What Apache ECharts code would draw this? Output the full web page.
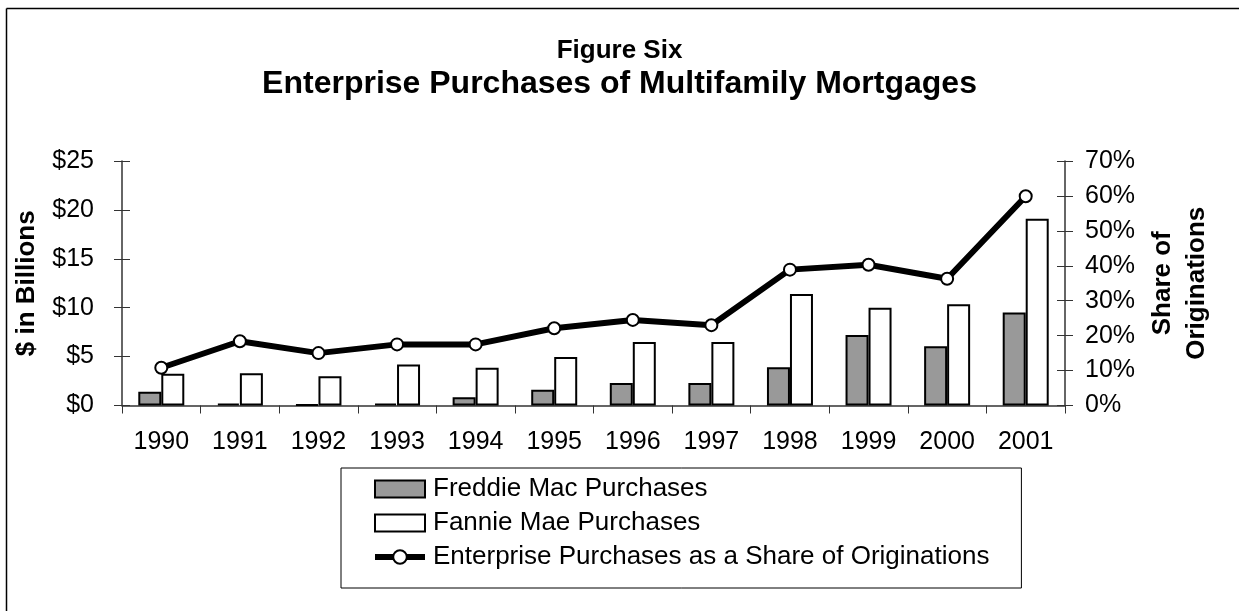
<!DOCTYPE html>
<html>
<head>
<meta charset="utf-8">
<title>Enterprise Purchases of Multifamily Mortgages</title>
<script src="https://cdn.jsdelivr.net/npm/echarts@6/dist/echarts.min.js"></script>
<style>
  html, body { margin: 0; padding: 0; background: #fff; }
  #chart { width: 1239px; height: 611px; }
</style>
</head>
<body>
<div id="chart"></div>
<script>
const years = ['1990', '1991', '1992', '1993', '1994', '1995', '1996', '1997', '1998', '1999', '2000', '2001'];
// $ billions
const freddie = [1.4, 0.2, 0.1, 0.2, 0.85, 1.6, 2.3, 2.3, 3.9, 7.2, 6.05, 9.5];
const fannie = [3.25, 3.3, 3.0, 4.2, 3.85, 4.95, 6.5, 6.5, 11.4, 10.0, 10.35, 19.1];
// percent of originations
const share = [10.8, 18.4, 15.0, 17.5, 17.5, 22.1, 24.5, 23.0, 38.9, 40.3, 36.3, 59.9];

const font = 'Arial, "Liberation Sans", sans-serif';
const axisColor = '#333';
const chart = echarts.init(document.getElementById('chart'));

// invisible twin axis, only to draw the inner half of the crossing tick marks
const innerTicks = (max, interval, position) => ({
  type: 'value', min: 0, max, interval, position,
  axisLine: { show: false },
  axisTick: { show: true, inside: true, length: 8, lineStyle: { color: axisColor } },
  axisLabel: { show: false },
  splitLine: { show: false }
});

chart.setOption({
  animation: false,
  backgroundColor: '#fff',
  textStyle: { fontFamily: font, color: '#000' },
  title: [
    { text: 'Figure Six', left: 'center', top: 33,
      textStyle: { fontFamily: font, fontSize: 26, fontWeight: 'bold', color: '#000' } },
    { text: 'Enterprise Purchases of Multifamily Mortgages', left: 'center', top: 63,
      textStyle: { fontFamily: font, fontSize: 32, fontWeight: 'bold', color: '#000' } }
  ],
  graphic: [
    { type: 'line', shape: { x1: 6.5, y1: 8.5, x2: 1239, y2: 8.5 }, style: { stroke: '#000', lineWidth: 1.5 } },
    { type: 'line', shape: { x1: 6.5, y1: 8.5, x2: 6.5, y2: 611 }, style: { stroke: '#000', lineWidth: 1.5 } }
  ],
  legend: {
    orient: 'vertical',
    left: 341,
    top: 468,
    padding: [8, 32, 18, 31],
    borderColor: '#000',
    borderWidth: 1,
    itemWidth: 50,
    itemHeight: 17,
    itemGap: 8,
    textStyle: { fontFamily: font, fontSize: 26, color: '#000', lineHeight: 26, padding: [0, 0, 0, 3] },
    data: [
      { name: 'Freddie Mac Purchases', icon: 'rect',
        itemStyle: { color: '#999999', borderColor: '#000', borderWidth: 2 } },
      { name: 'Fannie Mae Purchases', icon: 'rect',
        itemStyle: { color: '#fff', borderColor: '#000', borderWidth: 2 } },
      { name: 'Enterprise Purchases as a Share of Originations',
        itemStyle: { color: '#fff', borderColor: '#000', borderWidth: 2 },
        lineStyle: { color: '#000', width: 6 } }
    ]
  },
  grid: { left: 122, right: 174, top: 161, bottom: 205.5 },
  xAxis: {
    type: 'category',
    data: years,
    axisLine: { lineStyle: { color: axisColor, width: 1.5 } },
    axisTick: { show: true, length: 8, lineStyle: { color: axisColor } },
    axisLabel: { fontFamily: font, fontSize: 25, color: '#000', margin: 24 }
  },
  yAxis: [
    {
      type: 'value', min: 0, max: 25, interval: 5,
      name: '$ in Billions', nameLocation: 'middle', nameRotate: 90, nameGap: 82,
      nameTextStyle: { fontFamily: font, fontSize: 26, fontWeight: 'bold', color: '#000' },
      axisLine: { show: true, lineStyle: { color: axisColor, width: 1.5 } },
      axisTick: { show: true, length: 8, lineStyle: { color: axisColor } },
      splitLine: { show: false },
      axisLabel: { fontFamily: font, fontSize: 25, color: '#000', margin: 28, formatter: v => '$' + v }
    },
    {
      type: 'value', min: 0, max: 70, interval: 10, position: 'right',
      name: 'Share of\nOriginations', nameLocation: 'middle', nameRotate: 90, nameGap: 81,
      nameTextStyle: { fontFamily: font, fontSize: 26, fontWeight: 'bold', color: '#000', lineHeight: 34 },
      axisLine: { show: true, lineStyle: { color: axisColor, width: 1.5 } },
      axisTick: { show: true, length: 8, lineStyle: { color: axisColor } },
      splitLine: { show: false },
      axisLabel: { fontFamily: font, fontSize: 25, color: '#000', margin: 20, formatter: v => v + '%' }
    },
    innerTicks(25, 5, 'left'),
    innerTicks(70, 10, 'right')
  ],
  series: [
    {
      name: 'Freddie Mac Purchases', type: 'bar', data: freddie,
      barWidth: 23, barGap: '0%',
      itemStyle: { color: '#999999', borderColor: '#000', borderWidth: 2 }
    },
    {
      name: 'Fannie Mae Purchases', type: 'bar', data: fannie,
      barWidth: 23,
      itemStyle: { color: '#fff', borderColor: '#000', borderWidth: 2 }
    },
    {
      name: 'Enterprise Purchases as a Share of Originations', type: 'line', yAxisIndex: 1, data: share,
      symbol: 'circle', symbolSize: 12,
      lineStyle: { color: '#000', width: 6 },
      itemStyle: { color: '#fff', borderColor: '#000', borderWidth: 2 },
      z: 5
    }
  ]
});
window.addEventListener('resize', () => chart.resize());
</script>
</body>
</html>
